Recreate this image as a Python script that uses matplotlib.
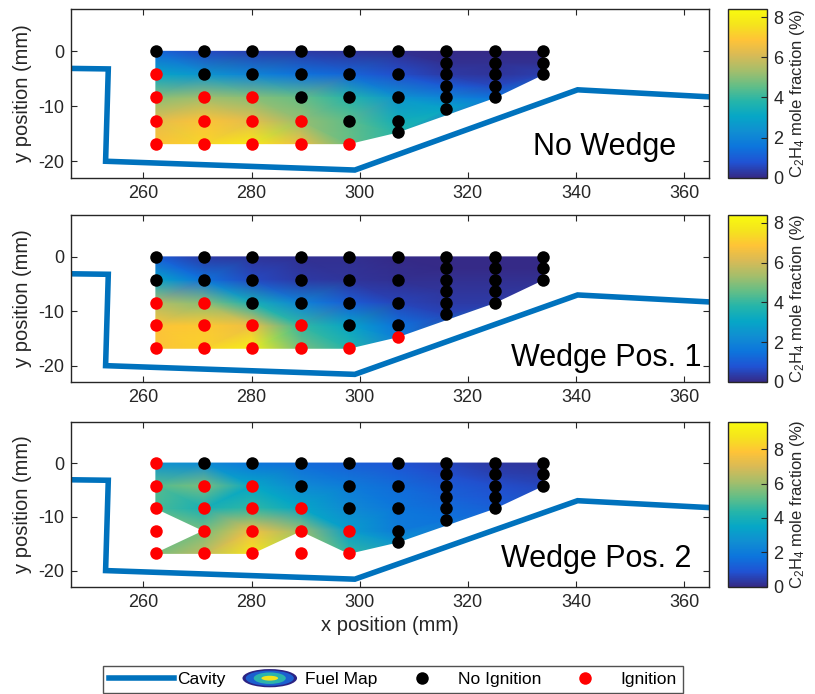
import numpy as np
import matplotlib
matplotlib.use("Agg")
import matplotlib.pyplot as plt
import matplotlib.tri as mtri
from matplotlib.colors import LinearSegmentedColormap
from matplotlib.legend_handler import HandlerBase
from matplotlib.patches import Ellipse, Patch
from matplotlib.lines import Line2D

plt.rcParams['font.family'] = ['Liberation Sans', 'DejaVu Sans']
plt.rcParams['mathtext.fontset'] = 'custom'
plt.rcParams['mathtext.rm'] = 'Liberation Sans'
plt.rcParams['mathtext.default'] = 'rm'
plt.rcParams['axes.unicode_minus'] = False

# --- data ---

# cavity wall (mm)
cavity_x = [246.0, 253.5, 253.0, 299.1, 340.3, 365.0]
cavity_y = [-3.1, -3.2, -20.0, -21.6, -7.0, -8.3]

# injector survey grid: x of each column and the y stations in it
col_x = [262.3, 271.2, 280.1, 289.1, 298.0, 307.0, 316.0, 325.0, 333.9]
col_y = [
    [0, -4.2, -8.4, -12.6, -16.8],
    [0, -4.2, -8.4, -12.6, -16.8],
    [0, -4.2, -8.4, -12.6, -16.8],
    [0, -4.2, -8.4, -12.6, -16.8],
    [0, -4.2, -8.4, -12.6, -16.8],
    [0, -4.2, -8.4, -12.6, -14.7],
    [0, -2.1, -4.2, -6.3, -8.4, -10.5],
    [0, -2.1, -4.2, -6.3, -8.4],
    [0, -2.1, -4.2],
]

# 1 = ignition, 0 = no ignition
ign_no_wedge = [
    [0, 1, 1, 1, 1], [0, 0, 1, 1, 1], [0, 0, 1, 1, 1], [0, 0, 0, 1, 1],
    [0, 0, 0, 0, 1], [0, 0, 0, 0, 0], [0] * 6, [0] * 5, [0] * 3,
]
ign_pos1 = [
    [0, 0, 1, 1, 1], [0, 0, 1, 1, 1], [0, 0, 0, 1, 1], [0, 0, 0, 1, 1],
    [0, 0, 0, 0, 1], [0, 0, 0, 0, 1], [0] * 6, [0] * 5, [0] * 3,
]
ign_pos2 = [
    [1, 1, 1, 1, 1], [0, 1, 1, 1, 1], [0, 1, 1, 1, 1], [0, 0, 1, 1, 1],
    [0, 0, 0, 1, 1], [0, 0, 0, 0, 0], [0] * 6, [0] * 5, [0] * 3,
]

# C2H4 mole fraction (%) at the grid stations (nan = not measured)
nan = np.nan
fuel_no_wedge = [
    [1.2, 3.0, 5.0, 6.3, 6.8],
    [0.6, 2.5, 5.3, 6.8, 7.3],
    [0.4, 2.0, 5.0, 6.3, 7.8],
    [0.3, 1.5, 4.6, 5.2, 6.5],
    [0.2, 1.2, 3.8, 4.5, 4.6],
    [0.1, 0.7, 2.5, 3.4, 3.8],
    [0.0, 0.1, 0.3, 1.0, 2.0, 3.0],
    [0.0, 0.1, 0.2, 0.6, 1.5],
    [0.0, 0.1, 0.4],
]
fuel_pos1 = [
    [1.0, 3.0, 5.5, 6.8, 6.8],
    [0.3, 1.5, 5.0, 7.0, 7.2],
    [0.2, 0.6, 3.5, 6.5, 8.0],
    [0.1, 0.3, 2.0, 4.0, 4.8],
    [0.1, 0.2, 1.0, 3.0, 3.8],
    [0.0, 0.1, 0.5, 1.5, 1.8],
    [0.0, 0.0, 0.1, 0.2, 0.3, 0.5],
    [0.0, 0.0, 0.1, 0.2, 0.3],
    [0.0, 0.0, 0.1],
]
fuel_pos2 = [
    [2.8, 5.0, 4.8, nan, 5.5],
    [2.5, 5.5, 4.0, 5.5, 6.5],
    [1.8, 3.5, 4.5, 7.5, 8.8],
    [1.5, 2.5, 3.5, 6.0, nan],
    [1.2, 2.0, 2.5, 3.2, 4.5],
    [0.9, 1.5, 1.8, 2.0, 2.8],
    [0.6, 0.8, 1.1, 1.3, 1.5, 1.7],
    [0.3, 0.5, 0.8, 1.0, 1.2],
    [0.2, 0.4, 0.6],
]

case_names = ['No Wedge', 'Wedge Pos. 1', 'Wedge Pos. 2']
cbar_max = [8.4, 8.4, 9.6]

# parula-like colormap
parula = LinearSegmentedColormap.from_list('parula', [
    (0.2081, 0.1663, 0.5292), (0.1253, 0.3242, 0.8303), (0.0498, 0.4586, 0.8641),
    (0.0641, 0.5570, 0.8240), (0.0228, 0.6535, 0.7768), (0.1453, 0.7098, 0.6646),
    (0.3953, 0.7459, 0.5244), (0.6473, 0.7456, 0.4188), (0.8507, 0.7299, 0.3360),
    (0.9990, 0.7653, 0.2164), (0.9589, 0.8949, 0.1132), (0.9763, 0.9831, 0.0538)])

cav_blue = '#0072BD'
dark = '#262626'


class FuelMapHandler(HandlerBase):
    def create_artists(self, legend, orig_handle, xdescent, ydescent,
                       width, height, fontsize, trans):
        cx = 0.5 * width - xdescent
        cy = 0.5 * height - ydescent
        rings = [(0.85, 1.5, '#2c2383'), (0.75, 1.25, '#1c5fd0'),
                 (0.5, 0.95, '#2bb3ac'), (0.26, 0.4, '#f2e21c')]
        return [Ellipse((cx, cy), fw * width, fh * height, facecolor=c,
                        edgecolor='none', transform=trans) for fw, fh, c in rings]


fig = plt.figure(figsize=(8.15, 6.94), dpi=100)
panel_pos = [(0.7439, 0.2431), (0.4496, 0.2406), (0.1546, 0.2378)]
ign_sets = [ign_no_wedge, ign_pos1, ign_pos2]
fuel_sets = [fuel_no_wedge, fuel_pos1, fuel_pos2]
text_pos = [(358.6, -18.8), (363.2, -20.0), (361.4, -19.3)]

px = np.concatenate([[x] * len(ys) for x, ys in zip(col_x, col_y)])
py = np.concatenate(col_y)

for i in range(3):
    bottom, height = panel_pos[i]
    ax = fig.add_axes([0.0871, bottom, 0.7828, height])
    cax = fig.add_axes([0.8933, bottom, 0.0472, height])

    z = np.concatenate(fuel_sets[i]).astype(float)
    ok = ~np.isnan(z)
    tri = mtri.Triangulation(px[ok], py[ok])
    # knock out triangles that cover stations with no measurement
    holes = np.c_[px[~ok], py[~ok]]
    if len(holes):
        cx = tri.x[tri.triangles].mean(axis=1)
        cy = tri.y[tri.triangles].mean(axis=1)
        d = np.min(np.hypot(cx[:, None] - holes[:, 0], cy[:, None] - holes[:, 1]), axis=1)
        tri.set_mask(d < 3.5)
    pc = ax.tripcolor(tri, z[ok], shading='gouraud', cmap=parula, vmin=0, vmax=cbar_max[i], zorder=1)

    ax.plot(cavity_x, cavity_y, color=cav_blue, lw=4, zorder=2, solid_joinstyle='miter')

    ign = np.concatenate(ign_sets[i]).astype(bool)
    ax.plot(px[~ign], py[~ign], 'o', color='black', ms=9, mec='none', zorder=3)
    ax.plot(px[ign], py[ign], 'o', color='red', ms=9, mec='none', zorder=3)

    ax.text(text_pos[i][0], text_pos[i][1], case_names[i], ha='right', va='baseline',
            fontsize=22, color='black', zorder=4)

    ax.set_xlim(246.6, 364.6)
    ax.set_ylim(-23, 7.7)
    ax.set_xticks([260, 280, 300, 320, 340, 360])
    ax.set_yticks([-20, -10, 0])
    ax.tick_params(direction='in', length=4.5, width=0.8, top=True, right=True,
                   labelsize=13, colors=dark, pad=5)
    for s in ax.spines.values():
        s.set_color(dark)
        s.set_linewidth(1.0)
    ax.set_ylabel('y position (mm)', fontsize=14.5, color=dark)
    if i == 2:
        ax.set_xlabel('x position (mm)', fontsize=14.5, color=dark)

    cb = fig.colorbar(pc, cax=cax, ticks=[0, 2, 4, 6, 8])
    cb.ax.tick_params(direction='in', length=4, width=0.8, labelsize=13, colors=dark, pad=5)
    cb.outline.set_edgecolor(dark)
    cb.outline.set_linewidth(1.0)
    cb.set_label('C$_2$H$_4$ mole fraction (%)', fontsize=12, color=dark, labelpad=3)

# legend
h_cav = Line2D([], [], color=cav_blue, lw=4)
h_fuel = Patch(facecolor='none', edgecolor='none')
h_no = Line2D([], [], ls='none', marker='o', color='black', ms=9, mec='none')
h_yes = Line2D([], [], ls='none', marker='o', color='red', ms=9, mec='none')
leg = fig.legend([h_cav, h_fuel, h_no, h_yes], ['Cavity', 'Fuel Map', 'No Ignition', 'Ignition'],
                 loc='upper left', bbox_to_anchor=(0.1268, 0.0403), borderaxespad=0,
                 ncol=4, fontsize=12.5, handlelength=3.7, handletextpad=0.2,
                 columnspacing=0.7, borderpad=0.35,
                 fancybox=False, edgecolor=dark, handler_map={h_fuel: FuelMapHandler()})
leg.get_frame().set_linewidth(1.0)

fig.savefig('out.png', dpi=100)
